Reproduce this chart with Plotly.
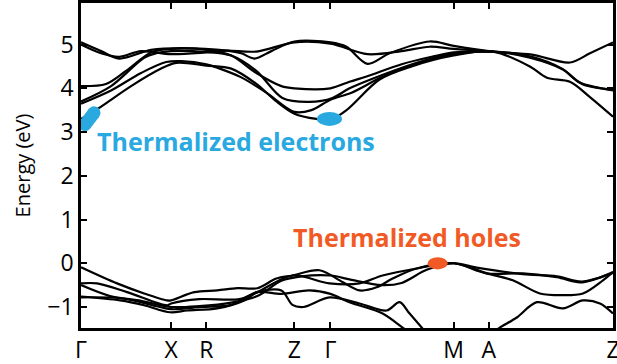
import plotly.graph_objects as go

# High-symmetry path (k distance, arbitrary units)
kpath_pos = [0, 90, 125, 213, 249, 372, 407, 531]
kpath_labels = ["Γ", "X", "R", "Z", "Γ", "M", "A", "Z"]
energy_ticks = [-1, 0, 1, 2, 3, 4, 5]

# Conduction bands (k, E in eV)
cb1_k = [0, 18, 50, 80, 95, 125, 150, 175, 195, 213, 235, 249, 265, 298, 330, 372, 411, 448, 465, 488, 508, 531]
cb1_e = [3.3, 3.55, 4.05, 4.45, 4.58, 4.52, 4.45, 4.1, 3.7, 3.42, 3.3, 3.28, 3.5, 4.2, 4.5, 4.75, 4.84, 4.5, 4.24, 4.15, 3.8, 3.35]
cb2_k = [0, 30, 60, 85, 100, 125, 136, 160, 185, 213, 230, 249, 270, 300, 340, 372, 411, 448, 481, 498, 531]
cb2_e = [3.65, 3.95, 4.35, 4.6, 4.62, 4.55, 4.47, 4.25, 3.9, 3.46, 3.5, 3.74, 3.9, 4.25, 4.6, 4.78, 4.84, 4.7, 4.43, 4.13, 3.95]
cb3_k = [0, 30, 63, 75, 90, 125, 150, 175, 201, 228, 251, 268, 300, 340, 372, 411, 450, 480, 500, 531]
cb3_e = [3.7, 4.05, 4.7, 4.8, 4.85, 4.83, 4.75, 4.4, 3.78, 3.69, 3.78, 4.0, 4.3, 4.62, 4.8, 4.84, 4.72, 4.45, 4.1, 3.97]
cb4_k = [0, 25, 45, 70, 90, 125, 150, 175, 200, 213, 249, 268, 285, 320, 350, 372, 411]
cb4_e = [4.05, 4.1, 4.4, 4.82, 4.9, 4.88, 4.75, 4.35, 4.05, 4.0, 4.0, 4.15, 4.27, 4.55, 4.72, 4.82, 4.84]
cb5_k = [0, 20, 38, 70, 100, 146, 160, 173, 190, 213, 249, 265, 286, 308, 348, 372, 411, 450, 488, 508, 531]
cb5_e = [5.05, 4.85, 4.68, 4.88, 4.92, 4.86, 4.8, 4.68, 4.85, 5.07, 5.05, 4.95, 4.56, 4.8, 5.07, 4.97, 4.84, 4.77, 4.59, 4.8, 5.05]
cb6_k = [0, 20, 38, 60, 90, 125, 146, 175, 213, 249, 286, 320, 348, 372, 411]
cb6_e = [5.0, 4.8, 4.72, 4.85, 4.78, 4.82, 4.86, 4.84, 5.05, 5.02, 4.78, 4.85, 4.95, 4.9, 4.84]

# Valence bands
vb1_k = [0, 36, 63, 86, 90, 113, 136, 156, 176, 195, 211, 238, 261, 278, 295, 311, 335, 372, 405, 441, 475, 498, 515, 531]
vb1_e = [-0.09, -0.46, -0.69, -0.85, -0.85, -0.66, -0.62, -0.57, -0.57, -0.35, -0.28, -0.16, -0.43, -0.62, -0.55, -0.35, -0.12, 0.0, -0.23, -0.23, -0.32, -0.44, -0.35, -0.2]
vb2_k = [0, 16, 46, 86, 90, 118, 158, 176, 211, 248, 278, 301, 335, 372, 405, 431, 458, 481, 501, 521, 531]
vb2_e = [-0.46, -0.46, -0.66, -0.96, -0.92, -0.82, -0.82, -0.66, -0.28, -0.46, -0.46, -0.28, -0.12, 0.0, -0.23, -0.39, -0.69, -0.73, -0.69, -0.39, -0.2]
vb3_k = [0, 29, 60, 90, 118, 150, 176, 200, 220, 249, 270, 300, 320, 345, 372, 395, 441, 475, 500, 531]
vb3_e = [-0.5, -0.75, -0.86, -1.0, -0.98, -0.9, -0.75, -0.4, -0.3, -0.28, -0.38, -0.5, -0.45, -0.15, 0.0, -0.1, -0.25, -0.3, -0.42, -0.22]
vb4_k = [0, 39, 63, 89, 106, 136, 163, 176, 200, 211, 222, 248, 278, 305, 318, 328, 345]
vb4_e = [-0.76, -0.85, -0.96, -1.12, -1.08, -1.03, -0.85, -0.66, -0.62, -0.95, -1.0, -0.78, -0.92, -1.08, -0.89, -1.15, -1.6]
vb5_k = [0, 40, 70, 90, 120, 150, 176, 200, 228, 249, 268, 301, 321, 330]
vb5_e = [-0.78, -0.8, -0.95, -1.05, -1.0, -0.95, -0.66, -0.7, -0.62, -0.7, -0.89, -1.15, -1.47, -1.6]
vb6_k = [410, 418, 435, 455, 481, 501, 518, 531]
vb6_e = [-1.6, -1.47, -1.24, -0.89, -1.03, -0.85, -0.92, -1.15]

bands = [(cb1_k, cb1_e), (cb2_k, cb2_e), (cb3_k, cb3_e), (cb4_k, cb4_e), (cb5_k, cb5_e), (cb6_k, cb6_e),
         (vb1_k, vb1_e), (vb2_k, vb2_e), (vb3_k, vb3_e), (vb4_k, vb4_e), (vb5_k, vb5_e), (vb6_k, vb6_e)]

# Carrier pockets
electron_pocket1_k = [4, 13]
electron_pocket1_e = [3.17, 3.44]
electron_pocket2 = dict(k=248, e=3.3, dk=12.5, de=0.16)
hole_pocket = dict(k=356, e=0.0, dk=10, de=0.14)

BLUE = "#29A9E0"
ORANGE = "#F15A24"
FONT = "Open Sans"

fig = go.Figure()
for k, e in bands:
    fig.add_trace(go.Scatter(x=k, y=e, mode="lines", line=dict(color="black", width=2.2, shape="spline", smoothing=0.9),
                             hoverinfo="skip", showlegend=False))

fig.add_trace(go.Scatter(x=electron_pocket1_k, y=electron_pocket1_e, mode="lines+markers",
                         line=dict(color=BLUE, width=13), marker=dict(color=BLUE, size=13),
                         showlegend=False, hoverinfo="skip"))

for p, c in [(electron_pocket2, BLUE), (hole_pocket, ORANGE)]:
    fig.add_shape(type="circle", xref="x", yref="y", x0=p["k"] - p["dk"], x1=p["k"] + p["dk"],
                  y0=p["e"] - p["de"], y1=p["e"] + p["de"], fillcolor=c, line=dict(width=0))

fig.add_annotation(x=14, y=2.79, xref="x", yref="y", text="<b>Thermalized electrons</b>", showarrow=False,
                   xanchor="left", yanchor="middle", font=dict(family=FONT, size=25, color=BLUE))
fig.add_annotation(x=210, y=0.6, xref="x", yref="y", text="<b>Thermalized holes</b>", showarrow=False,
                   xanchor="left", yanchor="middle", font=dict(family=FONT, size=25, color=ORANGE))

fig.update_layout(
    width=617, height=364, margin=dict(l=81, r=4, t=3, b=36),
    paper_bgcolor="white", plot_bgcolor="white",
    font=dict(family=FONT, color="black"),
    xaxis=dict(range=[0, 531], tickvals=kpath_pos, ticktext=kpath_labels, ticks="inside", ticklen=6,
               tickwidth=2, tickcolor="black", showline=True, linewidth=2.5, linecolor="black", mirror="ticks",
               showgrid=False, zeroline=False, tickfont=dict(size=23, family=FONT),
               ticklabeloverflow="allow", automargin=False),
    yaxis=dict(range=[-1.48, 5.95], tickvals=energy_ticks, ticks="inside", ticklen=6, tickwidth=2,
               tickcolor="black", showline=True, linewidth=2.5, linecolor="black", mirror="ticks",
               showgrid=False, zeroline=False, tickfont=dict(size=23, family=FONT), automargin=False,
               title=dict(text="Energy (eV)", font=dict(size=20, family=FONT), standoff=12)),
)

fig.write_html("out.html")
